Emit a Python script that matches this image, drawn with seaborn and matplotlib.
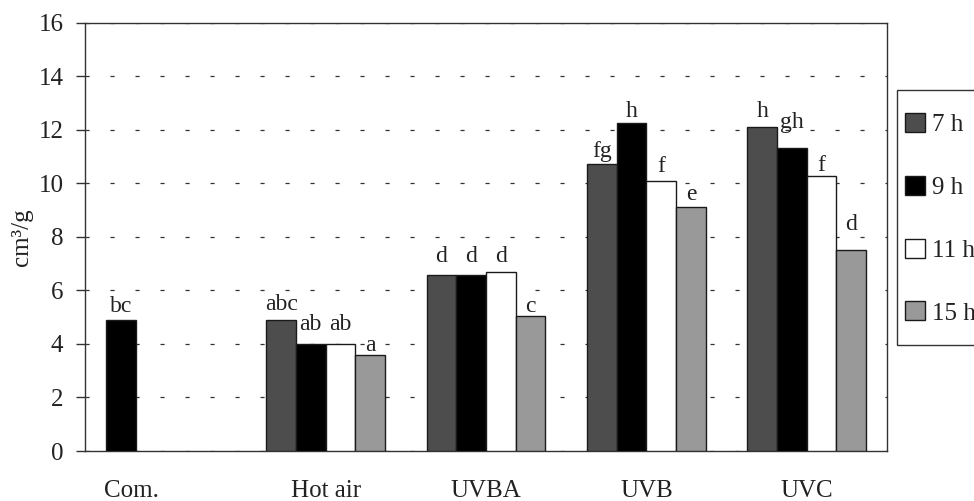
import matplotlib
matplotlib.use("Agg")
import matplotlib.pyplot as plt
import matplotlib.transforms as mtransforms
from matplotlib.patches import Rectangle
import numpy as np
import pandas as pd
import seaborn as sns

# ---- data -------------------------------------------------------------
treatments = ["Com.", "Hot air", "UVBA", "UVB", "UVC"]
times = ["7 h", "9 h", "11 h", "15 h"]

# values in cm3/g per treatment (None = not measured)
v_7h = [4.9, 4.9, 6.57, 10.72, 12.1]
v_9h = [None, 4.0, 6.57, 12.27, 11.33]
v_11h = [None, 4.0, 6.67, 10.09, 10.29]
v_15h = [None, 3.57, 5.05, 9.10, 7.50]

# significance letters, same layout as the values
l_7h = ["bc", "abc", "d", "fg", "h"]
l_9h = [None, "ab", "d", "h", "gh"]
l_11h = [None, "ab", "d", "f", "f"]
l_15h = [None, "a", "c", "e", "d"]

# gap (px) between each bar top and its letter baseline
g_7h = [7.6, 10, 13.3, 7.3, 10]
g_9h = [None, 13.7, 13.3, 6, 20]
g_11h = [None, 13.7, 10.6, 9, 5]
g_15h = [None, 4.6, 4, 7, 20]

yticks = [0, 2, 4, 6, 8, 10, 12, 14, 16]

colors = ["#4d4d4d", "#000000", "#ffffff", "#999999"]
com_color = "#000000"
text_color = "#222222"

# ---- build long table ---------------------------------------------------
rows = []
letters = {}
gaps = {}
for t, vals, labs, gs in zip(times, [v_7h, v_9h, v_11h, v_15h],
                             [l_7h, l_9h, l_11h, l_15h],
                             [g_7h, g_9h, g_11h, g_15h]):
    for tr, v, lab, g in zip(treatments, vals, labs, gs):
        if v is not None:
            rows.append({"treatment": tr, "time": t, "value": v})
            letters[(tr, t)] = lab
            gaps[(tr, t)] = g
df = pd.DataFrame(rows)

# ---- figure -----------------------------------------------------------
sns.set_theme(style="white")
plt.rcParams["font.family"] = ["Liberation Serif", "DejaVu Serif"]
plt.rcParams["text.color"] = text_color

fig = plt.figure(figsize=(9.74, 5.01), dpi=100)
ax = fig.add_axes([85 / 974, 50 / 501, (887 - 85) / 974, (451 - 22.7) / 501])

sns.barplot(data=df, x="treatment", y="value", hue="time",
            order=treatments, hue_order=times, palette=colors,
            width=0.74, gap=0, edgecolor="#1a1a1a", linewidth=1.0,
            errorbar=None, legend=False, ax=ax, zorder=3)

# the control bar is shown in black; letters above every bar
for container, t in zip(ax.containers, times):
    for bar in container:
        if np.isnan(bar.get_height()):
            continue
        idx = int(round(bar.get_x() + bar.get_width() / 2))
        tr = treatments[idx]
        if tr == "Com.":
            bar.set_facecolor(com_color)
        ax.annotate(letters[(tr, t)],
                    xy=(bar.get_x() + bar.get_width() / 2, bar.get_height()),
                    xytext=(0, gaps[(tr, t)] * 0.72), textcoords="offset points",
                    ha="center", va="baseline", fontsize=17,
                    color=text_color, zorder=4)

ax.set_xlim(-0.5, len(treatments) - 0.5)
ax.set_ylim(0, 16)
ax.set_yticks(yticks)
ax.set_yticklabels([str(v) for v in yticks], fontsize=18, color=text_color)
ax.set_xticks(range(len(treatments)))
ax.set_xticklabels(treatments, fontsize=18, color=text_color)
ax.set_xlabel("")
ax.set_ylabel("cm³/g", fontsize=18, color=text_color, labelpad=4)

ax.tick_params(axis="y", direction="out", length=6.5, width=1,
               color="#333333", pad=9, left=True)
ax.tick_params(axis="x", length=0, pad=21)

# shift the control label towards its bar
com_lab = ax.get_xticklabels()[0]
com_lab.set_transform(com_lab.get_transform() +
                      mtransforms.ScaledTranslation(-34 / 100, 0, fig.dpi_scale_trans))

# dashed grid behind the bars
ax.yaxis.grid(True, linestyle=(0, (3.3, 16.7)), color="#333333",
              linewidth=0.9, zorder=0)
ax.xaxis.grid(False)
ax.set_axisbelow(True)
for s in ax.spines.values():
    s.set_visible(True)
    s.set_color("#333333")
    s.set_linewidth(1.0)

# legend, boxed, running off the right edge
handles = [Rectangle((0, 0), 1, 1, facecolor=c, edgecolor="#1a1a1a", linewidth=1.0)
           for c in colors]
leg = fig.legend(handles, times, loc="upper left",
                 bbox_to_anchor=(905 / 974, 1 - 113 / 501),
                 frameon=False, fontsize=18, borderpad=0, borderaxespad=0,
                 handlelength=0.8, handleheight=0.8, handletextpad=0.3,
                 labelspacing=1.58)
for txt in leg.get_texts():
    txt.set_color(text_color)
fig.add_artist(Rectangle((897 / 974, 1 - 345 / 501), 0.2, (345 - 90) / 501,
                         transform=fig.transFigure, fill=False,
                         edgecolor="#333333", linewidth=1.0, clip_on=False))

fig.savefig("out.png", dpi=100)
